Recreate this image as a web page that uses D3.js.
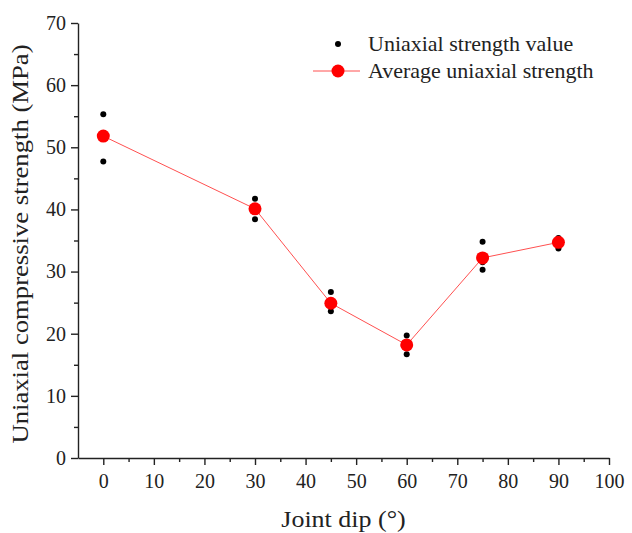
<!DOCTYPE html>
<html>
<head>
<meta charset="utf-8">
<script src="https://cdn.jsdelivr.net/npm/d3@7"></script>
<style>
  body { margin: 0; background: #fff; }
  svg text { font-family: "Liberation Serif", "Times New Roman", serif; fill: #222; }
</style>
</head>
<body>
<div class="chart"></div>
<script>
// joint dip angles
const dips = [0, 30, 45, 60, 75, 90];
// individual test values (three specimens per dip)
const sample1 = [55.3, 41.7, 26.7, 19.7, 34.8, 35.4];
const sample2 = [52.3, 40.2, 24.4, 18.2, 31.5, 35.0];
const sample3 = [47.7, 38.4, 23.6, 16.7, 30.3, 33.7];
// average values
const averages = [51.8, 40.1, 24.9, 18.2, 32.2, 34.7];
const xTicks = [0, 10, 20, 30, 40, 50, 60, 70, 80, 90, 100];
const yTicks = [0, 10, 20, 30, 40, 50, 60, 70];

const W = 632, H = 533;
const margin = {top: 23, right: 23, bottom: 75, left: 78};
const width = W - margin.left - margin.right,
  height = H - margin.top - margin.bottom;

const x = d3.scaleLinear().domain([-5, 100]).range([0, width]);
const y = d3.scaleLinear().domain([0, 70]).range([height, 0]);

const svg = d3.select('.chart').append('svg')
  .attr('width', W).attr('height', H)
  .append('g')
  .attr('transform', `translate(${margin.left},${margin.top})`);

// minor ticks
svg.append('g')
  .attr('transform', `translate(0,${height})`)
  .call(d3.axisBottom(x).tickValues(d3.range(5, 100, 10)).tickSize(4).tickFormat(''))
  .call(g => g.select('.domain').remove());
svg.append('g')
  .call(d3.axisLeft(y).tickValues(d3.range(5, 70, 10)).tickSize(4).tickFormat(''))
  .call(g => g.select('.domain').remove());

// main axes
const xAxis = svg.append('g')
  .attr('transform', `translate(0,${height})`)
  .call(d3.axisBottom(x).tickValues(xTicks).tickSize(7).tickSizeOuter(0).tickPadding(9));
const yAxis = svg.append('g')
  .call(d3.axisLeft(y).tickValues(yTicks).tickSize(7).tickSizeOuter(0).tickPadding(5));

[xAxis, yAxis].forEach(g => {
  g.selectAll('text').style('font-size', '20px').attr('fill', '#222');
});
svg.selectAll('.tick line, .domain').attr('stroke', '#222').attr('stroke-width', 1.4);

// axis titles (glyphs a bit wider than the serif available here)
svg.append('text')
  .attr('transform', `translate(${x(47.5)},${height + 69}) scale(1.13,1)`)
  .attr('text-anchor', 'middle')
  .style('font-size', '23px')
  .text('Joint dip (°)');
svg.append('text')
  .attr('transform', `translate(${-50},${221}) rotate(-90) scale(1.16,1)`)
  .attr('text-anchor', 'middle')
  .style('font-size', '23px')
  .text('Uniaxial compressive strength (MPa)');

// scatter of individual values
const pts = [];
dips.forEach((d, i) => {
  [sample1, sample2, sample3].forEach(s => pts.push({x: d, y: s[i]}));
});
svg.selectAll('.pt').data(pts).enter().append('circle')
  .attr('class', 'pt')
  .attr('cx', d => x(d.x)).attr('cy', d => y(d.y))
  .attr('r', 3).attr('fill', '#000');

// average line
const avg = dips.map((d, i) => ({x: d, y: averages[i]}));
svg.append('path')
  .datum(avg)
  .attr('fill', 'none')
  .attr('stroke', '#ff5050')
  .attr('stroke-width', 1)
  .attr('d', d3.line().x(d => x(d.x)).y(d => y(d.y)));
svg.selectAll('.avg').data(avg).enter().append('circle')
  .attr('class', 'avg')
  .attr('cx', d => x(d.x)).attr('cy', d => y(d.y))
  .attr('r', 6.5).attr('fill', '#ff0000');

// legend
const lg = svg.append('g').attr('transform', `translate(${338 - margin.left},${44 - margin.top})`);
lg.append('circle').attr('cx', 0).attr('cy', 0).attr('r', 3).attr('fill', '#000');
lg.append('text').attr('transform', 'translate(30,7) scale(1.1,1)')
  .style('font-size', '20px').text('Uniaxial strength value');
lg.append('line').attr('x1', -25).attr('x2', 22).attr('y1', 27).attr('y2', 27)
  .attr('stroke', '#ff5050').attr('stroke-width', 1);
lg.append('circle').attr('cx', 0).attr('cy', 27).attr('r', 6.5).attr('fill', '#ff0000');
lg.append('text').attr('transform', 'translate(30,34) scale(1.1,1)')
  .style('font-size', '20px').text('Average uniaxial strength');
</script>
</body>
</html>
